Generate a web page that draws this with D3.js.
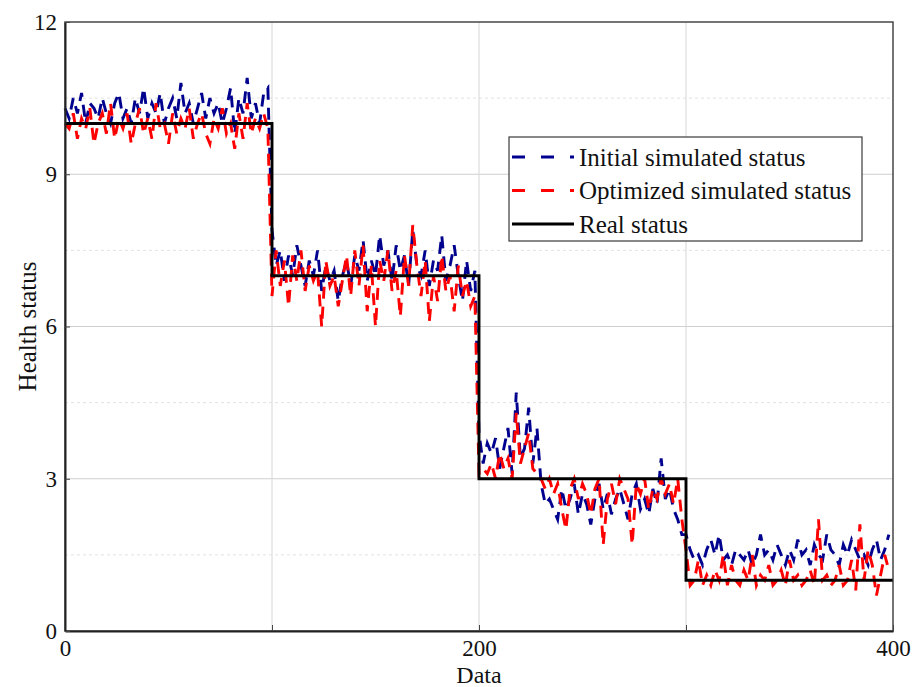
<!DOCTYPE html>
<html>
<head>
<meta charset="utf-8">
<script src="https://cdn.jsdelivr.net/npm/d3@7"></script>
<style>
  html, body { margin: 0; padding: 0; background: #fff; }
  svg { display: block; }
  text { font-family: "Liberation Serif", "DejaVu Serif", serif; fill: #111; }
</style>
</head>
<body>
<svg id="chart" width="918" height="687"></svg>
<script>
// ---------------- data ----------------
const xStep = 2;  // one sample every 2 data points (0..398)
const initialStatus = [
  // 0..98
  10.3,10.1,10.5,10.2,10.6,10.0,10.4,10.3,10.1,10.5,
  10.2,10.0,10.4,10.6,10.1,10.3,10.0,10.5,10.2,10.7,
  10.1,10.4,10.2,10.6,10.0,10.3,10.5,10.1,10.8,10.2,
  10.4,10.0,10.3,10.6,10.1,10.5,10.2,10.4,10.0,10.3,
  10.7,9.8,10.5,10.2,10.9,10.1,10.4,10.0,10.6,10.7,
  // 100..198
  7.9,7.2,7.5,6.9,7.4,7.0,7.6,7.2,6.8,7.3,
  7.0,7.5,6.7,7.2,6.9,7.1,6.5,7.0,7.3,6.8,
  7.4,7.1,7.7,6.9,7.3,7.0,7.8,7.2,7.5,6.9,
  7.6,7.1,7.4,6.8,7.9,7.2,7.0,7.5,6.8,7.3,
  7.1,7.8,6.9,7.2,7.6,7.0,6.5,7.3,6.7,7.1,
  // 200..298
  3.9,3.3,3.7,3.5,3.8,3.2,3.6,4.0,3.1,4.7,
  3.4,3.6,4.4,3.3,4.0,2.9,2.5,2.6,2.4,2.2,
  2.8,2.4,2.6,2.9,2.3,2.7,2.5,2.1,2.6,2.9,
  2.4,2.7,2.3,2.6,2.8,2.5,2.2,2.7,2.9,2.4,
  2.6,2.3,2.8,2.5,3.4,2.6,2.8,2.4,2.2,1.9,
  // 300..398
  1.9,1.6,1.4,1.5,1.3,1.6,1.8,1.5,1.9,1.4,
  1.5,1.3,1.6,1.5,1.4,1.6,1.3,1.5,1.9,1.5,
  1.6,1.4,1.7,1.5,1.3,1.6,1.4,1.8,1.5,1.6,
  1.3,1.7,1.5,1.4,1.9,1.6,1.5,1.3,1.7,1.5,
  1.8,1.6,1.4,1.5,1.3,1.6,1.8,1.4,1.6,1.9
];
const optimizedStatus = [
  // 0..98
  10.0,9.9,10.2,9.7,10.1,9.9,10.3,9.6,10.0,10.2,
  9.8,10.4,9.7,10.1,9.9,10.2,9.6,10.0,10.3,9.8,
  10.1,9.7,10.4,9.9,10.0,9.6,10.2,9.8,10.1,9.9,
  10.3,9.7,10.0,10.2,9.8,9.6,10.1,9.9,10.3,9.8,
  10.0,9.5,10.2,9.7,10.4,9.8,10.1,9.9,10.2,9.9,
  // 100..198
  6.6,7.5,6.8,7.3,6.4,7.4,6.9,7.5,6.7,7.2,
  6.9,7.1,6.0,7.3,6.8,7.0,6.4,6.9,7.4,6.6,
  7.5,6.8,7.6,6.3,7.2,6.0,7.3,6.9,7.5,6.7,
  7.1,6.2,7.4,6.8,8.0,7.2,6.6,7.3,6.1,7.0,
  6.5,7.4,6.7,7.0,6.3,7.2,6.6,6.9,6.4,6.6,
  // 200..298
  3.1,3.2,3.1,3.3,3.0,3.5,3.2,3.4,3.0,4.3,
  3.3,3.6,3.9,3.2,3.1,3.0,2.8,3.0,2.7,2.9,
  2.4,2.0,2.8,3.0,2.6,2.9,2.7,2.3,2.8,3.0,
  1.7,2.6,2.9,2.5,3.0,2.8,2.6,1.7,2.9,2.7,
  3.0,2.4,2.8,2.6,3.0,2.7,2.9,2.5,3.0,2.2,
  // 300..398
  1.6,0.9,1.0,1.4,0.9,1.1,0.9,1.2,1.0,1.5,
  0.9,1.3,1.0,0.9,1.2,1.0,1.5,0.9,1.1,1.0,
  1.3,0.9,1.0,1.2,0.9,1.4,1.0,1.1,0.9,1.0,
  1.2,0.9,2.2,1.0,1.1,0.9,1.0,1.3,0.9,1.0,
  1.4,0.8,2.1,1.0,1.6,1.3,0.7,1.1,1.5,1.2
];
const realX = [0, 100, 200, 300, 400];
const realY = [10, 7, 3, 1, 1];
const xTicks = [0, 200, 400];
const xGrid = [100, 200, 300];
const yTicks = [0, 3, 6, 9, 12];
const yMinor = [1.5, 4.5, 7.5, 10.5];
const seriesNames = ["Initial simulated status", "Optimized simulated status", "Real status"];
const seriesColors = ["#00008f", "#ff0000", "#000000"];

// ---------------- chart ----------------
const W = 918, H = 687;
const m = { left: 65, right: 25, top: 22, bottom: 56 };
const svg = d3.select("#chart");
const x = d3.scaleLinear().domain([0, 400]).range([m.left, W - m.right]);
const y = d3.scaleLinear().domain([0, 12]).range([H - m.bottom, m.top]);

// grid
const g = svg.append("g");
g.selectAll(".ygrid").data(yTicks.slice(1, -1)).join("line")
  .attr("x1", x(0)).attr("x2", x(400))
  .attr("y1", d => y(d)).attr("y2", d => y(d))
  .attr("stroke", "#cfcfcf").attr("stroke-width", 1);
g.selectAll(".yminor").data(yMinor).join("line")
  .attr("x1", x(0)).attr("x2", x(400))
  .attr("y1", d => y(d)).attr("y2", d => y(d))
  .attr("stroke", "#e2e2e2").attr("stroke-width", 1).attr("stroke-dasharray", "3,3");
g.selectAll(".xgrid").data(xGrid).join("line")
  .attr("y1", y(0)).attr("y2", y(12))
  .attr("x1", d => x(d)).attr("x2", d => x(d))
  .attr("stroke", "#d6d6d6").attr("stroke-width", 1);

// series
const idx = d3.range(initialStatus.length).map(i => i * xStep);
const line = d3.line().x(d => x(d[0])).y(d => y(d[1]));
svg.append("path")
  .datum(idx.map((xi, i) => [xi, initialStatus[i]]))
  .attr("d", line).attr("fill", "none")
  .attr("stroke", seriesColors[0]).attr("stroke-width", 2.9)
  .attr("stroke-dasharray", "12,8");
svg.append("path")
  .datum(idx.map((xi, i) => [xi, optimizedStatus[i]]))
  .attr("d", line).attr("fill", "none")
  .attr("stroke", seriesColors[1]).attr("stroke-width", 2.9)
  .attr("stroke-dasharray", "12,8");
svg.append("path")
  .datum(realX.map((xi, i) => [xi, realY[i]]))
  .attr("d", d3.line().x(d => x(d[0])).y(d => y(d[1])).curve(d3.curveStepAfter))
  .attr("fill", "none").attr("stroke", seriesColors[2]).attr("stroke-width", 2.9);

// frame
svg.append("rect")
  .attr("x", x(0)).attr("y", y(12))
  .attr("width", x(400) - x(0)).attr("height", y(0) - y(12))
  .attr("fill", "none").attr("stroke", "#3a3a3a").attr("stroke-width", 1.4);

// axes
const xAxis = svg.append("g").attr("transform", `translate(0,${y(0)})`)
  .call(d3.axisBottom(x).tickValues([0, 100, 200, 300, 400])
    .tickFormat(d => xTicks.includes(d) ? d : "").tickSizeInner(-6).tickSizeOuter(0).tickPadding(9));
xAxis.select(".domain").attr("stroke", "#222").attr("stroke-width", 2);
xAxis.selectAll(".tick line").attr("stroke", "#444");
xAxis.selectAll("text").style("font-size", "23px").attr("fill", "#111")
  .style("font-family", '"Liberation Serif", serif');

const yAxis = svg.append("g").attr("transform", `translate(${x(0)},0)`)
  .call(d3.axisLeft(y).tickValues(yTicks).tickSizeInner(-5).tickSizeOuter(0).tickPadding(8));
yAxis.select(".domain").attr("stroke", "#222").attr("stroke-width", 2);
yAxis.selectAll(".tick line").attr("stroke", "#444");
yAxis.selectAll("text").style("font-size", "23px").attr("fill", "#111")
  .style("font-family", '"Liberation Serif", serif');

// axis titles
svg.append("text").attr("x", (x(0) + x(400)) / 2).attr("y", 683)
  .attr("text-anchor", "middle").style("font-size", "24px").text("Data");
svg.append("text")
  .attr("transform", `translate(36,${(y(0) + y(12)) / 2}) rotate(-90)`)
  .attr("text-anchor", "middle").style("font-size", "25px").text("Health status");

// legend
const lg = svg.append("g").attr("transform", "translate(509,137)");
lg.append("rect").attr("width", 353).attr("height", 104)
  .attr("fill", "#fff").attr("stroke", "#3a3a3a").attr("stroke-width", 1.2);
seriesNames.forEach((name, i) => {
  const yy = 20 + i * 33.5;
  lg.append("line").attr("x1", 3).attr("x2", 65).attr("y1", yy).attr("y2", yy)
    .attr("stroke", seriesColors[i]).attr("stroke-width", 2.8)
    .attr("stroke-dasharray", i < 2 ? "13,16" : null);
  lg.append("text").attr("x", 70).attr("y", yy).attr("dy", "0.35em")
    .style("font-size", "25px").text(name);
});
</script>
</body>
</html>
